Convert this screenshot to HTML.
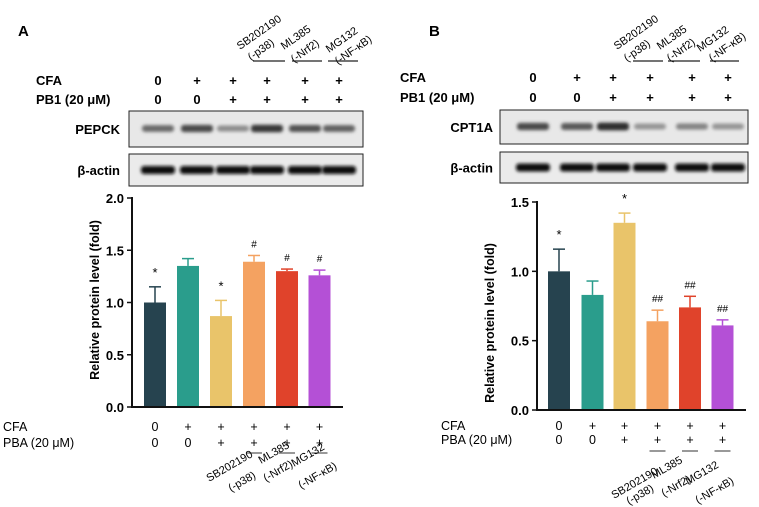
<!DOCTYPE html>
<html><head><meta charset="utf-8"><style>
html,body{margin:0;padding:0;background:#fff}
svg{display:block;font-family:"Liberation Sans",Arial,sans-serif}
</style></head><body>
<svg id="fig" width="759" height="507" viewBox="0 0 759 507" xmlns="http://www.w3.org/2000/svg">
<defs>
<filter id="blur1" x="-20%" y="-100%" width="140%" height="300%"><feGaussianBlur stdDeviation="1.6"/></filter>
</defs>
</svg>
<script>
// ---- data ----
const categories = ["Control","CFA","CFA+PB1","CFA+PB1+SB202190","CFA+PB1+ML385","CFA+PB1+MG132"];
const colors = ["#26434f","#2a9d8c","#e9c46a","#f4a261","#e0432b","#b450d6"];
const valuesA = [1.0, 1.35, 0.87, 1.39, 1.30, 1.26];
const errorsA = [0.15, 0.07, 0.15, 0.06, 0.02, 0.05];
const marksA = ["*", "", "*", "#", "#", "#"];
const ticksA = [0, 0.5, 1.0, 1.5, 2.0];
const valuesB = [1.0, 0.83, 1.35, 0.64, 0.74, 0.61];
const errorsB = [0.16, 0.10, 0.07, 0.08, 0.08, 0.04];
const marksB = ["*", "", "*", "##", "##", "##"];
const ticksB = [0, 0.5, 1.0, 1.5];
const cfaRow = ["0","+","+","+","+","+"];
const pbRow = ["0","0","+","+","+","+"];
const bandA1 = [0.55, 0.75, 0.35, 0.85, 0.7, 0.6];
const bandB1 = [0.75, 0.65, 0.9, 0.3, 0.4, 0.3];

const NS="http://www.w3.org/2000/svg";
const svg=document.getElementById('fig');
function el(tag,attrs,parent){const e=document.createElementNS(NS,tag);for(const k in attrs)e.setAttribute(k,attrs[k]);(parent||svg).appendChild(e);return e;}
function txt(x,y,s,attrs,parent){const t=el('text',Object.assign({x:x,y:y},attrs),parent);t.textContent=s;return t;}

function panel(cfg){
  const g=el('g',{});
  
  
  const L=txt(cfg.letterX,36,cfg.letter,{'font-size':15,'font-weight':'bold'},g);
  
  
  cfg.topDrugs.forEach(d=>{
    const t1=txt(0,0,d.a,{'font-size':11,transform:`translate(${d.x1},${d.y1}) rotate(-35)`},g);
    
    
    const t2=txt(0,0,d.b,{'font-size':11,transform:`translate(${d.x2},${d.y2}) rotate(-35)`},g);
    
    
    el('line',{x1:d.l0,x2:d.l1,y1:cfg.topLineY,y2:cfg.topLineY,stroke:'#222','stroke-width':1.3},g);
  });
  txt(cfg.rowLabelX,cfg.cfaY+5,'CFA',{'font-size':13,'font-weight':'bold'},g);
  txt(cfg.rowLabelX,cfg.pbY+5,'PB1 (20 μM)',{'font-size':13,'font-weight':'bold'},g);
  cfg.colX.forEach((x,i)=>{
    txt(x,cfg.cfaY+5,cfaRow[i],{'font-size':13,'font-weight':'bold','text-anchor':'middle'},g);
    txt(x,cfg.pbY+5,pbRow[i],{'font-size':13,'font-weight':'bold','text-anchor':'middle'},g);
  });
  const b1=el('g',{},g);
  
  
  el('rect',{x:cfg.blotX0,y:cfg.blot1Y,width:cfg.blotX1-cfg.blotX0,height:cfg.blot1H,fill:'#e8e8e8',stroke:'#222','stroke-width':1},b1);
  cfg.colX.forEach((x,i)=>{
    const v=cfg.bands[i];
    const c=Math.round(200-170*v);
    el('rect',{x:x-16,y:cfg.blot1Y+cfg.blot1H/2-3-1.5*v,width:32,height:5+3*v,rx:3,fill:`rgb(${c},${c},${c})`,filter:'url(#blur1)'},b1);
  });
  txt(cfg.labelRight,cfg.blot1Y+cfg.blot1H/2+5,cfg.protein,{'font-size':13,'font-weight':'bold','text-anchor':'end'},g);
  const b2=el('g',{},g);
  
  
  el('rect',{x:cfg.blotX0,y:cfg.blot2Y,width:cfg.blotX1-cfg.blotX0,height:cfg.blot2H,fill:'#ebebeb',stroke:'#222','stroke-width':1},b2);
  cfg.colX.forEach(x=>{
    el('rect',{x:x-17,y:cfg.blot2Y+cfg.blot2H/2-4,width:34,height:8,rx:3,fill:'#111',filter:'url(#blur1)'},b2);
  });
  txt(cfg.labelRight,cfg.blot2Y+cfg.blot2H/2+5,'β-actin',{'font-size':13,'font-weight':'bold','text-anchor':'end'},g);

  const ch=el('g',{},g);
  
  
  const yS=v=>cfg.y0-(v/cfg.ymax)*(cfg.y0-cfg.yTop);
  cfg.values.forEach((v,i)=>{
    const cx=cfg.barX[i], w=22;
    const top=yS(v+cfg.errors[i]);
    el('line',{x1:cx,x2:cx,y1:yS(v),y2:top,stroke:colors[i],'stroke-width':1.5},ch);
    el('line',{x1:cx-6,x2:cx+6,y1:top,y2:top,stroke:colors[i],'stroke-width':1.5},ch);
    const r=el('rect',{x:cx-w/2,y:yS(v),width:w,height:cfg.y0-yS(v),fill:colors[i]},ch);
    
    
    if(cfg.marks[i]){
      const m=txt(cx,top-(cfg.marks[i]=='*'?10:8),cfg.marks[i],{'font-size':cfg.marks[i]=='*'?13:10,'text-anchor':'middle'},ch);
      
      
    }
  });
  el('line',{x1:cfg.axisX,x2:cfg.axisX,y1:cfg.yTop-1,y2:cfg.y0,stroke:'#111','stroke-width':2},ch);
  el('line',{x1:cfg.axisX-1,x2:cfg.xEnd,y1:cfg.y0,y2:cfg.y0,stroke:'#111','stroke-width':2},ch);
  cfg.ticks.forEach(t=>{
    el('line',{x1:cfg.axisX-5,x2:cfg.axisX,y1:yS(t),y2:yS(t),stroke:'#111','stroke-width':1.5},ch);
    const tl=txt(cfg.axisX-8,yS(t)+5,t.toFixed(1),{'font-size':13,'font-weight':'bold','text-anchor':'end'},ch);
    
    
  });
  const yl=txt(0,0,'Relative protein level (fold)',{'font-size':12.5,'font-weight':'bold','text-anchor':'middle',transform:`translate(${cfg.yLabelX},${cfg.yLabelY}) rotate(-90)`},ch);
  
  
  txt(cfg.botLabelX,cfg.botCfaY+4,'CFA',{'font-size':12.5},ch);
  txt(cfg.botLabelX,cfg.botPbY+4,'PBA (20 μM)',{'font-size':12.5},ch);
  cfg.barX.forEach((x,i)=>{
    txt(x,cfg.botCfaY+4,cfaRow[i],{'font-size':12.5,'text-anchor':'middle'},ch);
    txt(x,cfg.botPbY+4,pbRow[i],{'font-size':12.5,'text-anchor':'middle'},ch);
    if(i>=3) el('line',{x1:x-8,x2:x+8,y1:cfg.botLineY,y2:cfg.botLineY,stroke:'#333','stroke-width':1},ch);
  });
  cfg.botDrugs.forEach(d=>{
    txt(0,0,d.a,{'font-size':11,transform:`translate(${d.x1},${d.y1}) rotate(-30)`},ch);
    txt(0,0,d.b,{'font-size':11,transform:`translate(${d.x2},${d.y2}) rotate(-30)`},ch);
  });
}

panel({name:'panel-a-pepck',letter:'A',letterX:18,protein:'PEPCK',
  topDrugs:[{a:'SB202190',x1:240,y1:50,b:'(-p38)',x2:251,y2:61,l0:253,l1:285},
            {a:'ML385',x1:284,y1:50,b:'(-Nrf2)',x2:294,y2:63,l0:292,l1:322},
            {a:'MG132',x1:329,y1:53,b:'(-NF-κB)',x2:338,y2:65,l0:328,l1:358}],
  topLineY:61,rowLabelX:36,cfaY:80,pbY:99,colX:[158,197,233,267,305,339],
  blotX0:129,blotX1:363,blot1Y:111,blot1H:36,blot2Y:154,blot2H:32,labelRight:120,bands:bandA1,
  values:valuesA,errors:errorsA,marks:marksA,ticks:ticksA,ymax:2.0,y0:407,yTop:198,axisX:132,xEnd:343,
  barX:[155,188,221,254,287,319.5],yLabelX:99,yLabelY:300,
  botLabelX:3,botCfaY:427,botPbY:443,botLineY:453,
  botDrugs:[{a:'SB202190',x1:209,y1:482,b:'(-p38)',x2:231,y2:492},
            {a:'ML385',x1:261,y1:464,b:'(-Nrf2)',x2:266,y2:482},
            {a:'MG132',x1:294,y1:467,b:'(-NF-κB)',x2:301,y2:489}]});

panel({name:'panel-b-cpt1a',letter:'B',letterX:429,protein:'CPT1A',
  topDrugs:[{a:'SB202190',x1:617,y1:50,b:'(-p38)',x2:627,y2:62,l0:633,l1:663},
            {a:'ML385',x1:660,y1:50,b:'(-Nrf2)',x2:670,y2:62,l0:668,l1:700},
            {a:'MG132',x1:700,y1:52,b:'(-NF-κB)',x2:712,y2:62,l0:710,l1:739}],
  topLineY:61,rowLabelX:400,cfaY:77,pbY:97,colX:[533,577,613,650,692,728],
  blotX0:500,blotX1:748,blot1Y:110,blot1H:34,blot2Y:152,blot2H:31,labelRight:493,bands:bandB1,
  values:valuesB,errors:errorsB,marks:marksB,ticks:ticksB,ymax:1.5,y0:410,yTop:202,axisX:537,xEnd:746,
  barX:[559,592.5,624.5,657.5,690,722.5],yLabelX:494,yLabelY:323,
  botLabelX:441,botCfaY:426,botPbY:440,botLineY:451,
  botDrugs:[{a:'SB202190',x1:614,y1:499,b:'(-p38)',x2:629,y2:505},
            {a:'ML385',x1:654,y1:479,b:'(-Nrf2)',x2:664,y2:497},
            {a:'MG132',x1:688,y1:485,b:'(-NF-κB)',x2:698,y2:504}]});
</script>
</body></html>
